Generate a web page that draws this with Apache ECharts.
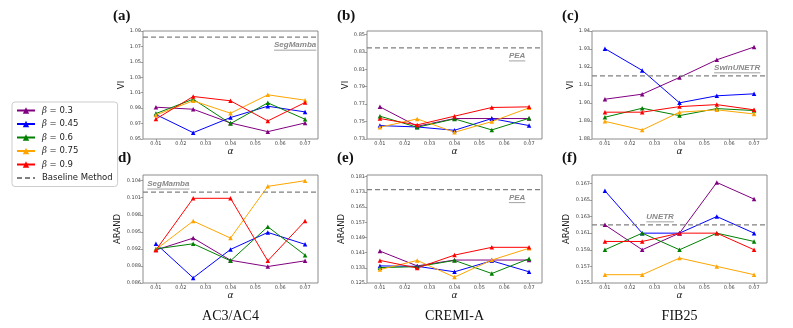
<!DOCTYPE html>
<html lang="en" style="height: 100%">
<head>
  <meta charset="utf-8">
  <title>Beta / alpha sensitivity</title>
</head>
<body style="height: 100%; margin: 0; background: #fff">
  <div id="container" style="width: 793px; height: 328px"></div>

  <script type="text/javascript" src="https://cdn.jsdelivr.net/npm/echarts@6/dist/echarts.min.js"></script>

  <script type="text/javascript">
    // x values and series names
    var alphas = [0.01, 0.025, 0.04, 0.055, 0.07];
    var alphaTicks = [0.01, 0.02, 0.03, 0.04, 0.05, 0.06, 0.07];
    var betaNames = ['β = 0.3', 'β = 0.45', 'β = 0.6', 'β = 0.75', 'β = 0.9'];
    var betaColors = ['#800080', '#0000ff', '#008000', '#ffa500', '#ff0000'];

    // rows: beta 0.3, 0.45, 0.6, 0.75, 0.9
    var viAC = [
      [0.9912, 0.9886, 0.9708, 0.9595, 0.9708],
      [0.9817, 0.9582, 0.9778, 0.9925, 0.9851],
      [0.9830, 1.0016, 0.9700, 0.9969, 0.9756],
      [0.9812, 0.9995, 0.9834, 1.0073, 1.0003],
      [0.9760, 1.0051, 0.9995, 0.9734, 0.9973]
    ];
    var viCremi = [
      [0.7669, 0.7446, 0.7535, 0.7535, 0.7535],
      [0.7454, 0.7438, 0.7400, 0.7535, 0.7454],
      [0.7562, 0.7435, 0.7531, 0.7404, 0.7538],
      [0.7435, 0.7531, 0.7377, 0.7500, 0.7658],
      [0.7535, 0.7462, 0.7562, 0.7662, 0.7669]
    ];
    var viFib = [
      [1.9021, 1.9049, 1.9142, 1.9240, 1.9311],
      [1.9302, 1.9181, 1.9001, 1.9040, 1.9051],
      [1.8921, 1.8971, 1.8930, 1.8969, 1.8958],
      [1.8898, 1.8850, 1.8949, 1.8962, 1.8939],
      [1.8949, 1.8949, 1.8980, 1.8991, 1.8962]
    ];
    var arandAC = [
      [0.0918, 0.0939, 0.0900, 0.0889, 0.0899],
      [0.0929, 0.0869, 0.0919, 0.0949, 0.0928],
      [0.0920, 0.0929, 0.0899, 0.0959, 0.0909],
      [0.0919, 0.0969, 0.0939, 0.1030, 0.1040],
      [0.0918, 0.1009, 0.1009, 0.0899, 0.0969]
    ];
    var arandCremi = [
      [0.1418, 0.1340, 0.1371, 0.1371, 0.1371],
      [0.1340, 0.1338, 0.1309, 0.1367, 0.1309],
      [0.1331, 0.1336, 0.1369, 0.1300, 0.1378],
      [0.1321, 0.1369, 0.1281, 0.1371, 0.1433],
      [0.1369, 0.1329, 0.1397, 0.1438, 0.1438]
    ];
    var arandFib = [
      [0.1620, 0.1590, 0.1610, 0.1671, 0.1651],
      [0.1661, 0.1610, 0.1610, 0.1630, 0.1610],
      [0.1590, 0.1610, 0.1590, 0.1610, 0.1600],
      [0.1560, 0.1560, 0.1580, 0.1570, 0.1560],
      [0.1600, 0.1600, 0.1610, 0.1610, 0.1590]
    ];

    var baselineNames = ['SegMamba', 'PEA', 'SwinUNETR', 'SegMamba', 'PEA', 'UNETR'];
    var baselineValues = [1.082, 0.8346, 1.9151, 0.102, 0.1742, 0.162];

    var panelData = [viAC, viCremi, viFib, arandAC, arandCremi, arandFib];
    var panelLetters = ['(a)', '(b)', '(c)', '(d)', '(e)', '(f)'];
    var yNames = ['VI', 'VI', 'VI', 'ARAND', 'ARAND', 'ARAND'];
    var datasetNames = ['AC3/AC4', 'CREMI-A', 'FIB25'];

    // y tick labels of each panel
    var yTickStart = [0.95, 0.73, 1.88, 0.086, 0.125, 0.155];
    var yTickStep = [0.02, 0.02, 0.01, 0.003, 0.008, 0.002];
    var yTickCount = [8, 7, 7, 7, 8, 7];
    var yMax = [1.09, 0.854, 1.94, 0.105, 0.1819, 0.168];
    var yDecimals = [2, 2, 2, 3, 3, 3];

    var xMin = 0.0048, xMax = 0.0752;
    var colLeft = [143, 367, 592];
    var rowTop = [31, 175];
    var plotW = 175, plotH = 108;

    var grids = [], xAxes = [], yAxes = [], series = [];
    var tickFont = { fontSize: 5, color: '#444', fontFamily: 'DejaVu Sans' };

    for (var p = 0; p < 6; p++) {
      grids.push({
        left: colLeft[p % 3], top: rowTop[Math.floor(p / 3)],
        width: plotW, height: plotH,
        show: true, borderColor: '#8c8c8c', borderWidth: 1
      });
      xAxes.push({
        type: 'value', gridIndex: p, min: xMin, max: xMax,
        name: 'α', nameLocation: 'middle', nameGap: 8,
        nameTextStyle: { fontSize: 9, fontStyle: 'italic', fontFamily: 'DejaVu Sans', color: '#222' },
        axisLine: { show: false },
        splitLine: { show: false },
        axisTick: { length: 2.5, customValues: alphaTicks, lineStyle: { color: '#666', width: 0.6 } },
        axisLabel: Object.assign({
          customValues: alphaTicks, margin: 2,
          formatter: function (v) { return v.toFixed(2); }
        }, tickFont)
      });
      var yt = [];
      for (var k = 0; k < yTickCount[p]; k++) {
        yt.push(+(yTickStart[p] + k * yTickStep[p]).toFixed(4));
      }
      (function (dec) {
        yAxes.push({
          type: 'value', gridIndex: p, min: yTickStart[p], max: yMax[p],
          name: yNames[p], nameLocation: 'middle', nameGap: 12,
          nameTextStyle: { fontSize: 8.5, fontFamily: 'DejaVu Sans', color: '#222' },
          axisLine: { show: false },
          splitLine: { show: false },
          axisTick: { length: 2.5, customValues: yt, lineStyle: { color: '#666', width: 0.6 } },
          axisLabel: Object.assign({
            customValues: yt, margin: 2,
            formatter: function (v) { return v.toFixed(dec); }
          }, tickFont)
        });
      })(yDecimals[p]);

      for (var b = 0; b < 5; b++) {
        series.push({
          type: 'line', name: betaNames[b], xAxisIndex: p, yAxisIndex: p,
          data: alphas.map(function (a, i) { return [a, panelData[p][b][i]]; }),
          symbol: 'triangle', symbolSize: 4.5,
          color: betaColors[b],
          lineStyle: { width: 1, color: betaColors[b] },
          itemStyle: { color: betaColors[b] },
          animation: false, silent: true
        });
      }
      series.push({
        type: 'line', name: 'Baseline Method', xAxisIndex: p, yAxisIndex: p,
        data: [[xMin, baselineValues[p]], [xMax, baselineValues[p]]],
        symbol: 'none', color: '#808080',
        lineStyle: { width: 1.2, type: [5, 3], color: '#808080' },
        animation: false, silent: true
      });
    }

    var graphics = [];
    for (var p = 0; p < 6; p++) {
      graphics.push({
        type: 'text', left: colLeft[p % 3] - 30, top: rowTop[Math.floor(p / 3)] - 22 + (p >= 3 ? -2 : 0),
        style: { text: panelLetters[p], fontSize: 15, fontWeight: 'bold', fontFamily: 'Liberation Serif', fill: '#111' }
      });
    }
    for (var c = 0; c < 3; c++) {
      graphics.push({
        type: 'text', x: colLeft[c] + plotW / 2, y: 316,
        style: { text: datasetNames[c], fontSize: 14, fontFamily: 'Liberation Serif', fill: '#111', align: 'center', verticalAlign: 'middle' }
      });
    }

    var dom = document.getElementById('container');
    var myChart = echarts.init(dom, null, { renderer: 'canvas' });

    var option = {
      animation: false,
      grid: grids,
      xAxis: xAxes,
      yAxis: yAxes,
      series: series,
      legend: {
        orient: 'vertical', left: 12, top: 102,
        data: betaNames.concat([{ name: 'Baseline Method', itemStyle: { opacity: 0 } }]),
        itemWidth: 18, itemHeight: 8, itemGap: 4.5,
        padding: [4, 5, 4, 4],
        borderColor: '#cccccc', borderWidth: 1, borderRadius: 3,
        backgroundColor: '#fff',
        selectedMode: false,
        formatter: function (n) {
          return n.charAt(0) === 'β' ? '{b|β}' + n.slice(1) : n;
        },
        textStyle: {
          fontSize: 8.5, fontFamily: 'DejaVu Sans', color: '#222', padding: [0, 0, 0, 2],
          rich: { b: { fontSize: 8.5, fontStyle: 'italic', fontFamily: 'DejaVu Serif', color: '#222' } }
        }
      },
      graphic: graphics
    };
    myChart.setOption(option);

    // baseline annotations: [x anchor, text align, above the line?]
    var annot = [
      [0.0745, 'right', false],
      [0.0685, 'right', false],
      [0.0725, 'right', true],
      [0.0065, 'left', true],
      [0.0685, 'right', false],
      [0.0322, 'center', true]
    ];
    var extra = [];
    for (var p = 0; p < 6; p++) {
      var pt = myChart.convertToPixel({ gridIndex: p }, [annot[p][0], baselineValues[p]]);
      var fs = 8;
      var txt = baselineNames[p];
      var w = echarts.format.getTextRect ? echarts.format.getTextRect(txt, 'italic bold 8px "Liberation Sans"').width : txt.length * 5;
      var ty = annot[p][2] ? pt[1] - 12 : pt[1] + 4;
      extra.push({
        type: 'text', x: pt[0], y: ty,
        style: { text: txt, fontSize: fs, fontStyle: 'italic', fontWeight: 'bold', fontFamily: 'Liberation Sans', fill: '#8a8a8a', align: annot[p][1], verticalAlign: 'top' }
      });
      var x0 = annot[p][1] === 'right' ? pt[0] - w : (annot[p][1] === 'center' ? pt[0] - w / 2 : pt[0]);
      extra.push({
        type: 'line', shape: { x1: x0, y1: ty + 9, x2: x0 + w, y2: ty + 9 },
        style: { stroke: '#8a8a8a', lineWidth: 0.8 }
      });
    }
    myChart.setOption({ graphic: graphics.concat(extra) });

    window.addEventListener('resize', function () {
      myChart.resize();
    });
  </script>
</body>
</html>
